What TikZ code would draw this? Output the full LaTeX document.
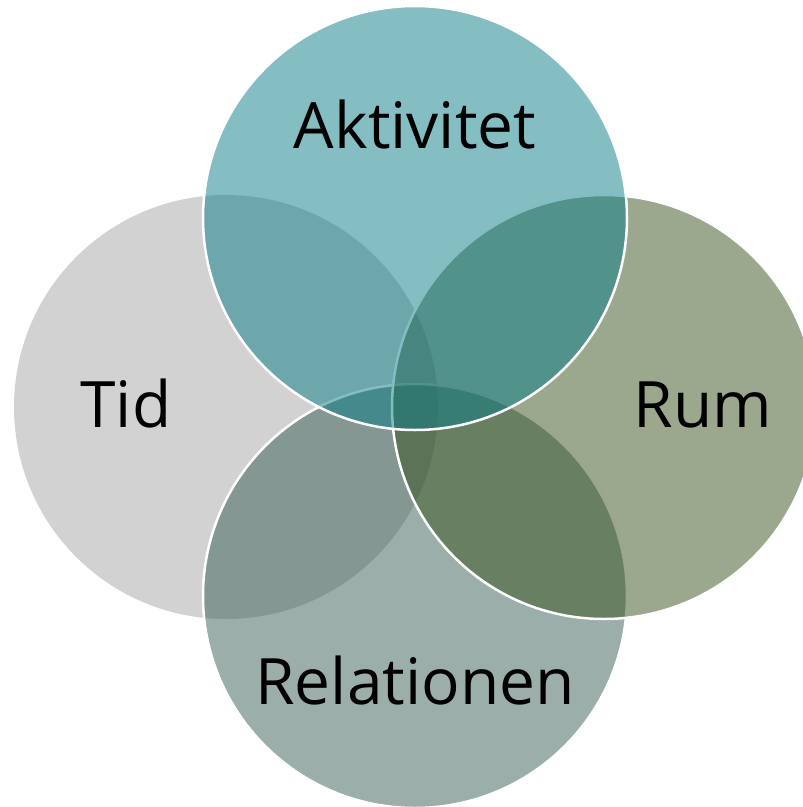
\documentclass[tikz,border=0pt]{standalone}
\usepackage{fontspec}
\setmainfont{Open Sans}
\definecolor{cakt}{RGB}{9,125,135}
\definecolor{ctid}{RGB}{210,210,210}
\definecolor{crum}{RGB}{55,81,29}
\definecolor{crel}{RGB}{55,93,83}
\begin{document}
\begin{tikzpicture}[x=1pt,y=-1pt,
  venn/.style={circle,inner sep=0pt,minimum size=424pt,draw=white,line width=2.5pt,fill opacity=0.5,draw opacity=1},
  lbl/.style={anchor=base,font=\fontsize{64}{72}\selectfont,text=black,inner sep=0pt}]
\useasboundingbox (0,0) rectangle (803,807);
\node[circle,inner sep=0pt,minimum size=424pt,fill=ctid] (tid) at (226,407) {};
\node[venn,fill=crel] (rel) at (415,596) {};
\node[venn,fill=crum] (rum) at (604,407) {};
\node[venn,fill=cakt] (akt) at (415,218) {};
\node[lbl] (takt) at (415,148) {Aktivitet};
\node[lbl] (ttid) at (126,427) {Tid};
\node[lbl] (trum) at (703,427) {Rum};
\node[lbl] (trel) at (415,704) {Relationen};
\end{tikzpicture}
\end{document}
